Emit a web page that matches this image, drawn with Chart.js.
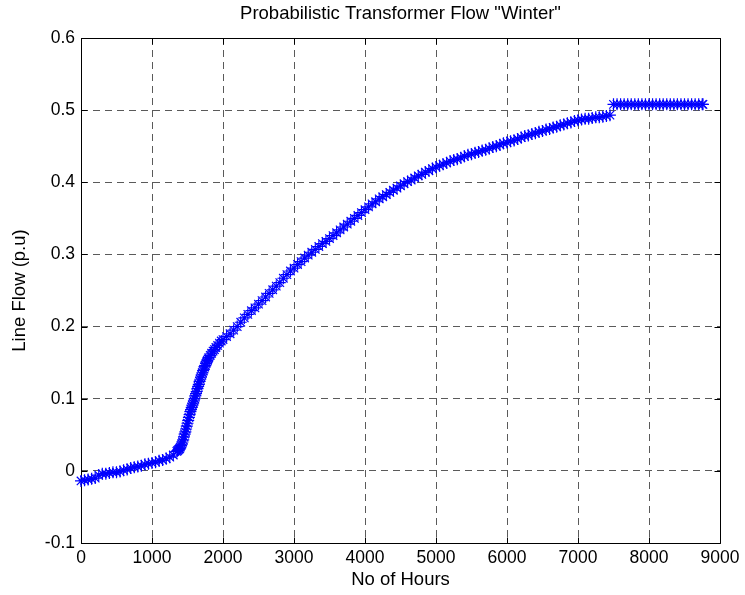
<!DOCTYPE html>
<html>
<head>
<meta charset="utf-8">
<script src="https://cdn.jsdelivr.net/npm/chart.js@4"></script>
<style>
  html, body { margin: 0; padding: 0; background: #ffffff; }
  #wrap { width: 745px; height: 595px; }
</style>
</head>
<body>
<div id="wrap"><canvas id="c" width="745" height="595"></canvas></div>
<script>
// Text
const chartTitle = 'Probabilistic Transformer Flow "Winter"';
const xTitle = 'No of Hours';
const yTitle = 'Line Flow (p.u)';

// Axis ticks
const xTicks = [0, 1000, 2000, 3000, 4000, 5000, 6000, 7000, 8000, 9000];
const yTicks = [-0.1, 0, 0.1, 0.2, 0.3, 0.4, 0.5, 0.6];

// Sorted transformer flow over the hours of the year
const hours = [
  0, 50, 100, 150, 200, 250, 300, 350, 400, 450,
  500, 550, 600, 650, 700, 750, 800, 850, 900, 950,
  1000, 1050, 1100, 1150, 1200, 1250, 1300, 1350,
  1360, 1370, 1380, 1390, 1400, 1410, 1420, 1430, 1440, 1450,
  1460, 1470, 1480, 1490, 1500, 1510, 1520, 1530, 1540, 1550,
  1560, 1570, 1580, 1590, 1600, 1610, 1620, 1630, 1640, 1650,
  1660, 1670, 1680, 1690, 1700, 1710, 1720, 1730, 1740, 1750,
  1760, 1770, 1780, 1790, 1800,
  1820, 1840, 1860, 1880, 1900, 1925, 1950, 1975, 2000,
  2050, 2100, 2150, 2200, 2250, 2300, 2350, 2400, 2450, 2500,
  2550, 2600, 2650, 2700, 2750, 2800, 2850, 2900, 2950, 3000,
  3050, 3100, 3150, 3200, 3250, 3300, 3350, 3400, 3450, 3500,
  3550, 3600, 3650, 3700, 3750, 3800, 3850, 3900, 3950, 4000,
  4050, 4100, 4150, 4200, 4250, 4300, 4350, 4400, 4450, 4500,
  4550, 4600, 4650, 4700, 4750, 4800, 4850, 4900, 4950, 5000,
  5050, 5100, 5150, 5200, 5250, 5300, 5350, 5400, 5450, 5500,
  5550, 5600, 5650, 5700, 5750, 5800, 5850, 5900, 5950, 6000,
  6050, 6100, 6150, 6200, 6250, 6300, 6350, 6400, 6450, 6500,
  6550, 6600, 6650, 6700, 6750, 6800, 6850, 6900, 6950, 7000,
  7050, 7100, 7150, 7200, 7250, 7300, 7350, 7400, 7450,
  7500, 7550, 7600, 7650, 7700, 7750, 7800, 7850, 7900, 7950,
  8000, 8050, 8100, 8150, 8200, 8250, 8300, 8350, 8400, 8450,
  8500, 8550, 8600, 8650, 8700, 8750, 8760
];
const flow = [
  -0.014, -0.013, -0.012, -0.011, -0.010, -0.006, -0.004, -0.004, -0.003, -0.002,
  -0.002, -0.001, 0.001, 0.002, 0.004, 0.005, 0.006, 0.007, 0.009, 0.010,
  0.011, 0.012, 0.014, 0.015, 0.017, 0.019, 0.022, 0.027,
  0.028, 0.029, 0.030, 0.031, 0.033, 0.035, 0.037, 0.040, 0.043, 0.047,
  0.051, 0.054, 0.058, 0.062, 0.066, 0.070, 0.074, 0.078, 0.082, 0.085,
  0.088, 0.091, 0.094, 0.097, 0.100, 0.104, 0.107, 0.110, 0.114, 0.117,
  0.120, 0.124, 0.127, 0.130, 0.133, 0.136, 0.139, 0.141, 0.144, 0.146,
  0.149, 0.151, 0.153, 0.155, 0.157,
  0.160, 0.163, 0.166, 0.168, 0.171, 0.174, 0.177, 0.180, 0.182,
  0.186, 0.190, 0.195, 0.200, 0.206, 0.212, 0.217, 0.222, 0.226, 0.231,
  0.236, 0.241, 0.246, 0.251, 0.256, 0.261, 0.267, 0.272, 0.277, 0.281,
  0.286, 0.290, 0.295, 0.299, 0.303, 0.307, 0.311, 0.315, 0.318, 0.322,
  0.326, 0.330, 0.334, 0.338, 0.342, 0.346, 0.350, 0.354, 0.358, 0.362,
  0.366, 0.370, 0.373, 0.377, 0.380, 0.383, 0.386, 0.389, 0.392, 0.395,
  0.398, 0.401, 0.403, 0.406, 0.409, 0.411, 0.414, 0.416, 0.419, 0.421,
  0.423, 0.425, 0.427, 0.429, 0.431, 0.432, 0.434, 0.436, 0.438, 0.439,
  0.441, 0.442, 0.444, 0.445, 0.447, 0.449, 0.450, 0.452, 0.454, 0.455,
  0.457, 0.458, 0.460, 0.462, 0.464, 0.465, 0.467, 0.468, 0.470, 0.471,
  0.473, 0.474, 0.476, 0.477, 0.479, 0.480, 0.482, 0.483, 0.485, 0.486,
  0.487, 0.488, 0.488, 0.489, 0.490, 0.490, 0.491, 0.492, 0.493,
  0.508, 0.508, 0.508, 0.508, 0.508, 0.508, 0.508, 0.508, 0.508, 0.508,
  0.508, 0.508, 0.508, 0.508, 0.508, 0.508, 0.508, 0.508, 0.508, 0.508,
  0.508, 0.508, 0.508, 0.508, 0.508, 0.508, 0.508
];

const FONT = "'Liberation Sans', Arial, Helvetica, sans-serif";
const TICK_SIZE = 17.5;
const LABEL_SIZE = 18.5;

// Box around the plot, inward tick marks on all four sides, and the title
const framePlugin = {
  id: 'frame',
  beforeDatasetsDraw(chart) {
    const { ctx, chartArea: a, scales: { x, y } } = chart;
    const L = Math.round(a.left) + 0.5, R = Math.round(a.right) + 0.5;
    const T = Math.round(a.top) + 0.5, B = Math.round(a.bottom) + 0.5;
    ctx.save();
    ctx.strokeStyle = '#000000';
    ctx.lineWidth = 1;
    ctx.setLineDash([]);
    ctx.beginPath();
    ctx.rect(L, T, R - L, B - T);
    const len = 6;
    xTicks.forEach(v => {
      const px = Math.round(x.getPixelForValue(v)) + 0.5;
      ctx.moveTo(px, B); ctx.lineTo(px, B - len);
      ctx.moveTo(px, T); ctx.lineTo(px, T + len);
    });
    yTicks.forEach(v => {
      const py = Math.round(y.getPixelForValue(v)) + 0.5;
      ctx.moveTo(L, py); ctx.lineTo(L + len, py);
      ctx.moveTo(R, py); ctx.lineTo(R - len, py);
    });
    ctx.stroke();
    ctx.restore();
  },
  afterDraw(chart) {
    const { ctx, chartArea: a } = chart;
    ctx.save();
    ctx.fillStyle = '#000000';
    ctx.font = LABEL_SIZE + 'px ' + FONT;
    ctx.textAlign = 'center';
    ctx.textBaseline = 'middle';
    ctx.fillText(chartTitle, (a.left + a.right) / 2, 14);
    ctx.restore();
  }
};

const gridStyle = { color: '#5a5a5a', lineWidth: 1, drawTicks: false };

new Chart(document.getElementById('c'), {
  type: 'scatter',
  data: {
    datasets: [{
      data: hours.map((h, i) => ({ x: h, y: flow[i] })),
      showLine: false,
      pointStyle: 'star',
      pointRadius: 6,
      pointHoverRadius: 6,
      pointBorderWidth: 1.2,
      pointBorderColor: '#0000ff',
      pointBackgroundColor: '#0000ff',
      clip: false
    }]
  },
  options: {
    responsive: false,
    animation: false,
    devicePixelRatio: 1,
    layout: { padding: { left: 0, right: 25, top: 38, bottom: 0 } },
    plugins: { legend: { display: false }, tooltip: { enabled: false } },
    scales: {
      x: {
        type: 'linear',
        min: 0, max: 9000,
        afterBuildTicks: s => { s.ticks = xTicks.map(v => ({ value: v })); },
        afterFit: s => { s.height = 52; },
        grid: gridStyle,
        border: { display: false, dash: [7, 5] },
        ticks: {
          padding: 5, color: '#000000', maxRotation: 0, autoSkip: false,
          font: { family: FONT, size: TICK_SIZE },
          callback: v => String(v)
        },
        title: {
          display: true, text: xTitle, color: '#000000',
          font: { family: FONT, size: LABEL_SIZE },
          padding: { top: 0, bottom: 4 }
        }
      },
      y: {
        type: 'linear',
        min: -0.1, max: 0.6,
        afterBuildTicks: s => { s.ticks = yTicks.map(v => ({ value: v })); },
        afterFit: s => { s.width = 81; },
        grid: gridStyle,
        border: { display: false, dash: [7, 5] },
        ticks: {
          padding: 6, color: '#000000', autoSkip: false,
          font: { family: FONT, size: TICK_SIZE },
          callback: v => (v === 0 ? '0' : v.toFixed(1))
        },
        title: {
          display: true, text: yTitle, color: '#000000',
          font: { family: FONT, size: LABEL_SIZE },
          padding: { top: 9, bottom: 0 }
        }
      }
    }
  },
  plugins: [framePlugin]
});
</script>
</body>
</html>
